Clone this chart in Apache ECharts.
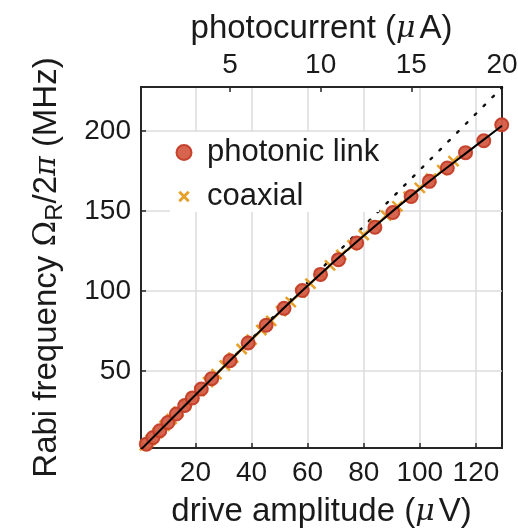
<!DOCTYPE html>
<html>
<head>
<meta charset="utf-8">
<script src="https://cdn.jsdelivr.net/npm/echarts@6/dist/echarts.min.js"></script>
<style>html,body{margin:0;padding:0;background:#fff;}#c{width:518px;height:529px;}</style>
</head>
<body>
<div id="c"></div>
<script>
// photonic link (drive amplitude µV, Rabi frequency MHz)
const photonicX = [0.7, 2.5, 4.9, 7.3, 10.2, 13.2, 16.2, 18.9, 22.1, 25.8, 32.3, 38.8, 45.2, 51.6, 58.1, 64.6, 71.0, 77.5, 84.0, 90.4, 96.9, 103.4, 109.8, 116.3, 122.8, 129.2];
const photonicY = [1.2, 4.4, 8.6, 12.8, 17.9, 23.2, 28.5, 33.2, 38.8, 45.3, 56.5, 67.6, 78.6, 89.2, 100.3, 110.4, 119.6, 130.0, 139.8, 149.0, 159.0, 168.5, 176.8, 186.4, 193.8, 203.8];
// coaxial
const coaxialX = [2, 4, 6.5, 9, 11.5, 14, 16.5, 19, 21.5, 24.5, 27.5, 30.5, 33.5, 36.5, 40, 43.5, 47, 50.5, 54, 57.5, 61, 64.5, 68, 72, 76, 80, 84, 88, 92, 96, 100, 104, 108, 112];
const coaxialY = [3.6, 7.0, 11.3, 15.9, 20.1, 24.7, 28.9, 33.5, 37.6, 43.1, 48.1, 53.5, 58.4, 63.8, 69.6, 75.7, 81.4, 87.5, 93.1, 99.1, 104.6, 110.5, 116.0, 122.5, 128.6, 135.0, 140.9, 147.1, 152.9, 158.9, 164.4, 170.2, 175.5, 181.1];
// fit curve (solid) and linear reference (dotted)
const fitX = [0, 20, 40, 60, 80, 100, 120, 129.3];
const fitY = [0, 35.1, 69.8, 103.3, 134.5, 163.8, 190.8, 203.2];
const linX = [0, 129.3];
const linY = [0, 227];
// axes
const xTicks = [20, 40, 60, 80, 100, 120];
const topTicks = [5, 10, 15, 20];
const yTicks = [50, 100, 150, 200];
const xRange = [0.6, 129.3];
const topRange = [0.093, 20];
const yRange = [2, 227.4];

const zip = (a, b) => a.map((v, i) => [v, b[i]]);
const FONT = 'Liberation Sans';
const AX = '#262626';
const TXT = '#1a1a1a';
const ORANGE = '#e6a12c';

const chart = echarts.init(document.getElementById('c'), null, {renderer: 'canvas'});
chart.setOption({
  animation: false,
  backgroundColor: '#fff',
  grid: {left: 141, right: 16, top: 87, bottom: 81, show: true, borderColor: AX, borderWidth: 2,
    backgroundColor: 'transparent', containLabel: false, outerBoundsMode: 'none'},
  legend: {
    left: 170, top: 132, orient: 'vertical', padding: [5, 0, 0, 5], backgroundColor: '#fff',
    itemWidth: 36, itemHeight: 15, itemGap: 13,
    textStyle: {fontFamily: FONT, fontSize: 31, color: TXT, lineHeight: 30},
    data: [
      {name: 'photonic link'},
      {name: 'coaxial', icon: 'path://M-3,-3M13,13M0,0L10,10M10,0L0,10',
        itemStyle: {color: ORANGE, borderColor: ORANGE, borderWidth: 3}}
    ]
  },
  xAxis: [{
    type: 'value', position: 'bottom', min: xRange[0], max: xRange[1],
    name: 'drive amplitude ({mu|μ}V)', nameLocation: 'middle', nameGap: 47,
    nameTextStyle: {fontFamily: FONT, fontSize: 33, color: TXT, lineHeight: 34,
      rich: {mu: {fontFamily: 'DejaVu Serif', fontStyle: 'italic', fontSize: 30, color: TXT, padding: [0, 4, 0, 0]}}},
    axisLine: {show: true, lineStyle: {color: AX, width: 2}},
    axisTick: {show: true, inside: true, length: 5, lineStyle: {color: AX, width: 1.5}, customValues: xTicks},
    axisLabel: {customValues: xTicks, fontFamily: FONT, fontSize: 28, color: TXT, margin: 11},
    splitLine: {show: true, lineStyle: {color: '#dcdcdc', width: 1.5}}
  }, {
    type: 'value', position: 'top', min: topRange[0], max: topRange[1],
    name: 'photocurrent ({mu|μ}A)', nameLocation: 'middle', nameGap: 40,
    nameTextStyle: {fontFamily: FONT, fontSize: 33, color: TXT, lineHeight: 34,
      rich: {mu: {fontFamily: 'DejaVu Serif', fontStyle: 'italic', fontSize: 30, color: TXT, padding: [0, 4, 0, 0]}}},
    axisLine: {show: true, lineStyle: {color: AX, width: 2}},
    axisTick: {show: true, inside: true, length: 5, lineStyle: {color: AX, width: 1.5}, customValues: topTicks},
    axisLabel: {customValues: topTicks, fontFamily: FONT, fontSize: 28, color: TXT, margin: 8},
    splitLine: {show: false}
  }],
  yAxis: {
    type: 'value', min: yRange[0], max: yRange[1],
    name: 'Rabi frequency {om|Ω}{sub|R}/2{pi|π} (MHz)', nameLocation: 'middle', nameGap: 74, nameRotate: 90,
    nameTextStyle: {fontFamily: FONT, fontSize: 33, color: TXT, lineHeight: 40,
      rich: {
        om: {fontFamily: 'DejaVu Serif', fontSize: 31, color: TXT, lineHeight: 40},
        sub: {fontFamily: FONT, fontSize: 24, color: TXT, verticalAlign: 'bottom', lineHeight: 40, padding: [14, 0, 0, 0]},
        pi: {fontFamily: 'DejaVu Serif', fontStyle: 'italic', fontSize: 30, color: TXT, lineHeight: 40}
      }},
    axisLine: {show: true, lineStyle: {color: AX, width: 2}},
    axisTick: {show: true, inside: true, length: 5, lineStyle: {color: AX, width: 1.5}, customValues: yTicks},
    axisLabel: {customValues: yTicks, fontFamily: FONT, fontSize: 28, color: TXT, margin: 10},
    splitLine: {show: true, lineStyle: {color: '#dcdcdc', width: 1.5}}
  },
  series: [
    {
      name: 'linear', type: 'line', data: zip(linX, linY), showSymbol: false, symbol: 'none',
      lineStyle: {color: '#111', width: 2.4, type: [2, 10.5], cap: 'round'}, z: 1, clip: true, silent: true
    },
    {
      name: 'coaxial', type: 'scatter', data: zip(coaxialX, coaxialY),
      symbol: 'path://M0,0L10,10M10,0L0,10', symbolSize: 10,
      itemStyle: {color: ORANGE, borderColor: ORANGE, borderWidth: 2.6, opacity: 1}, z: 2
    },
    {
      name: 'photonic link', type: 'scatter', data: zip(photonicX, photonicY),
      symbol: 'circle', symbolSize: 13,
      itemStyle: {color: '#d55c45', borderColor: '#c33d27', borderWidth: 2, opacity: 0.95}, z: 3
    },
    {
      name: 'fit', type: 'line', data: zip(fitX, fitY), smooth: true, showSymbol: false, symbol: 'none',
      lineStyle: {color: '#000', width: 2}, z: 4, silent: true
    }
  ]
});
</script>
</body>
</html>
